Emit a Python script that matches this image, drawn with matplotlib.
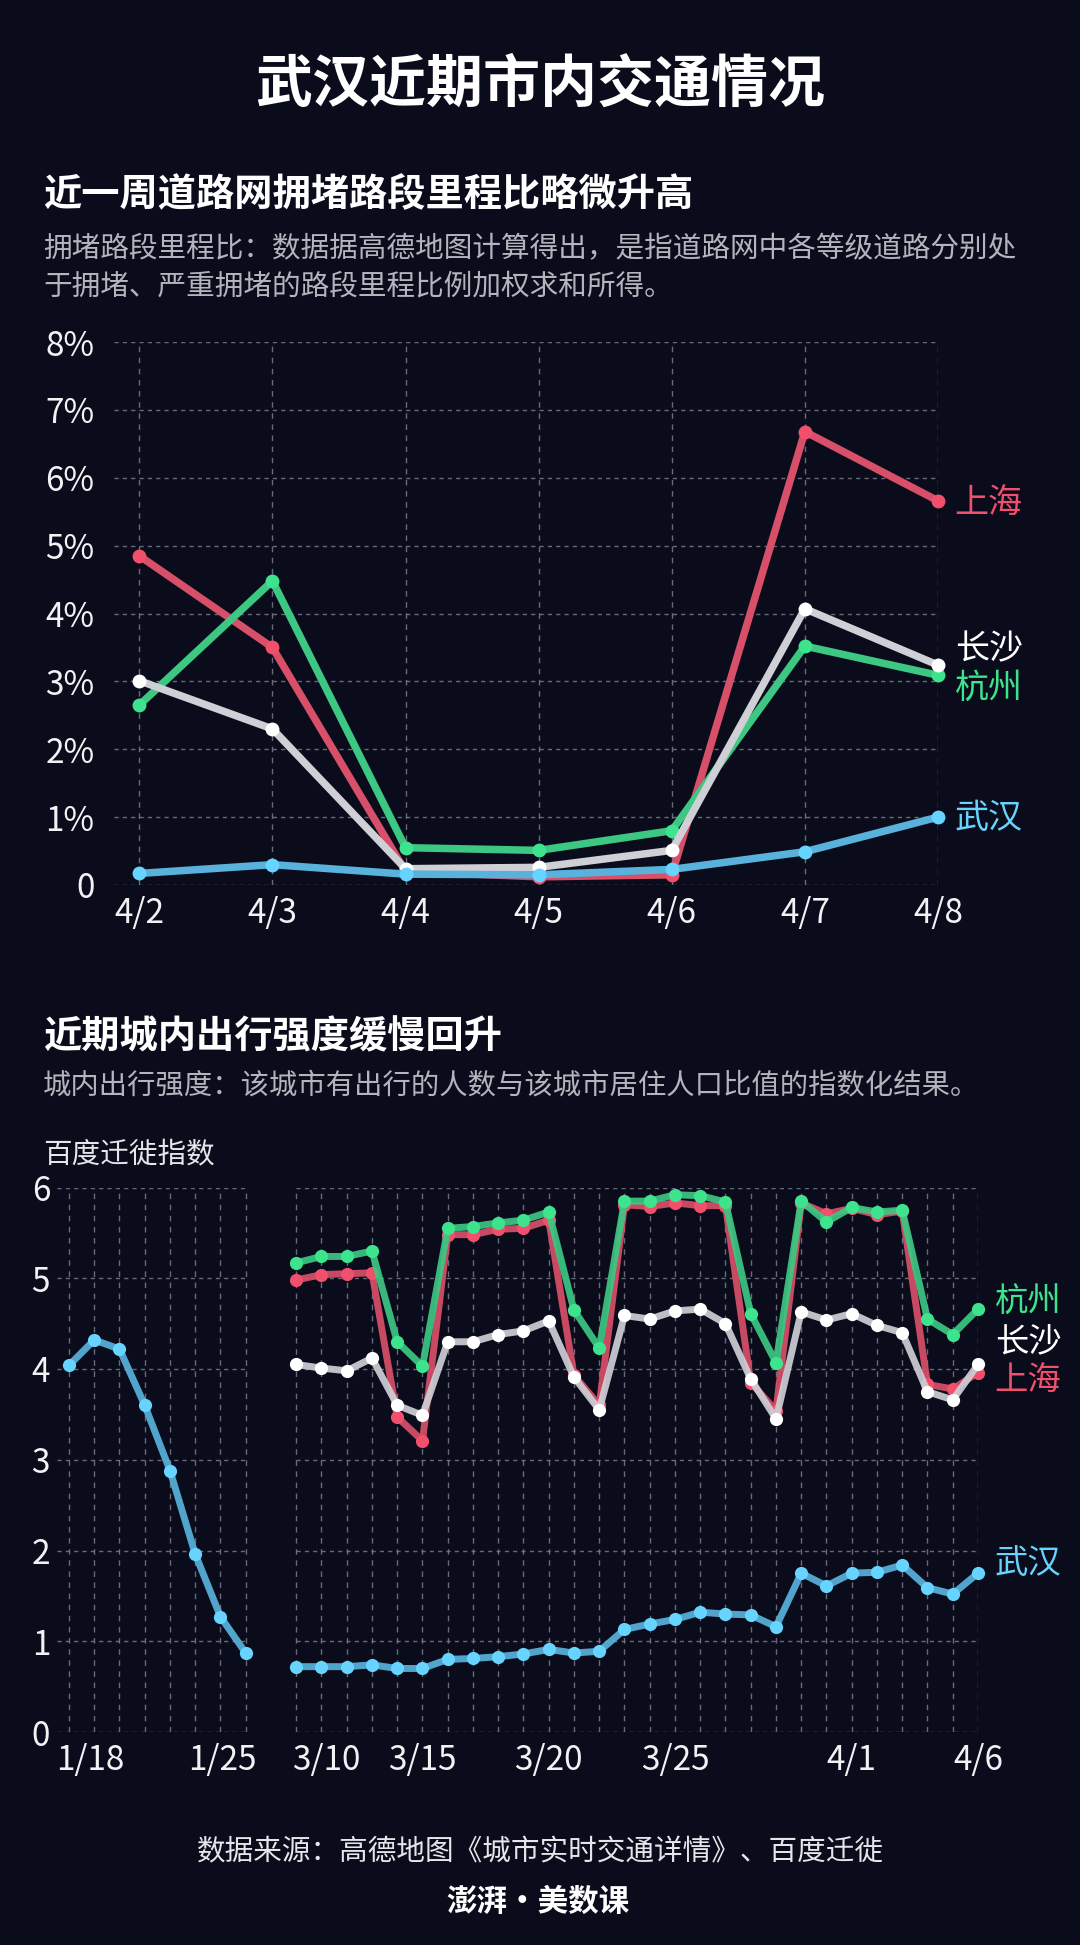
import matplotlib
matplotlib.use("Agg")
import matplotlib.pyplot as plt
import numpy as np

plt.rcParams['font.family'] = ['Noto Sans CJK SC', 'DejaVu Sans']

# ---------------- data ----------------
top_dates = ['4/2', '4/3', '4/4', '4/5', '4/6', '4/7', '4/8']
top_shanghai = [4.85, 3.50, 0.20, 0.12, 0.15, 6.68, 5.66]
top_hangzhou = [2.65, 4.48, 0.55, 0.51, 0.80, 3.52, 3.09]
top_changsha = [3.01, 2.30, 0.24, 0.26, 0.51, 4.07, 3.24]
top_wuhan = [0.17, 0.30, 0.16, 0.15, 0.23, 0.49, 1.00]
top_yticks = ['0', '1%', '2%', '3%', '4%', '5%', '6%', '7%', '8%']

jan_dates = ['1/18', '1/19', '1/20', '1/21', '1/22', '1/23', '1/24', '1/25']
mar_dates = ['3/10', '3/11', '3/12', '3/13', '3/14', '3/15', '3/16', '3/17', '3/18',
             '3/19', '3/20', '3/21', '3/22', '3/23', '3/24', '3/25', '3/26', '3/27',
             '3/28', '3/29', '3/30', '3/31', '4/1', '4/2', '4/3', '4/4', '4/5', '4/6']
wuhan_jan = [4.04, 4.32, 4.22, 3.60, 2.88, 1.96, 1.27, 0.87]
wuhan_mar = [0.72, 0.72, 0.72, 0.74, 0.70, 0.70, 0.80, 0.81, 0.83, 0.86, 0.91, 0.87,
             0.89, 1.13, 1.19, 1.24, 1.32, 1.30, 1.29, 1.16, 1.75, 1.61, 1.75, 1.76,
             1.84, 1.59, 1.52, 1.75]
hangzhou_mar = [5.17, 5.24, 5.24, 5.30, 4.30, 4.03, 5.55, 5.57, 5.61, 5.64, 5.73, 4.65,
                4.23, 5.85, 5.85, 5.92, 5.91, 5.84, 4.61, 4.07, 5.85, 5.62, 5.78, 5.73,
                5.75, 4.55, 4.38, 4.66]
shanghai_mar = [4.98, 5.04, 5.05, 5.06, 3.47, 3.21, 5.48, 5.48, 5.54, 5.55, 5.64, 3.93,
                3.60, 5.81, 5.79, 5.83, 5.80, 5.80, 3.85, 3.54, 5.83, 5.71, 5.77, 5.70,
                5.74, 3.83, 3.78, 3.96]
changsha_mar = [4.05, 4.01, 3.98, 4.12, 3.60, 3.49, 4.30, 4.30, 4.38, 4.42, 4.53, 3.91,
                3.55, 4.59, 4.55, 4.64, 4.66, 4.50, 3.89, 3.45, 4.63, 4.54, 4.61, 4.48,
                4.40, 3.75, 3.66, 4.05]
bottom_tick_labels = ['1/18', '1/25', '3/10', '3/15', '3/20', '3/25', '4/1', '4/6']

# ---------------- style ----------------
BG = '#0a0c1c'
C_SH_LINE, C_SH_MK = '#d84f69', '#f0506c'
C_HZ_LINE, C_HZ_MK = '#3cc883', '#3ee38e'
C_CS_LINE, C_CS_MK = '#cfcfd6', '#ffffff'
C_WH_LINE, C_WH_MK = '#58b2dc', '#66d4ff'
GRID = '#80828f'
TXT = '#ffffff'
GRAY = '#b3b5bd'
LIGHT = 'light'

W, H = 1080, 1945
fig = plt.figure(figsize=(W / 100, H / 100), dpi=100, facecolor=BG)


def fx(px):
    return px / W


def fy(py):
    return 1 - py / H


# ---------------- headings ----------------
fig.text(0.5, fy(85), '武汉近期市内交通情况', ha='center', va='center',
         fontsize=41, fontweight='bold', color=TXT)
fig.text(fx(43), fy(195), '近一周道路网拥堵路段里程比略微升高', ha='left', va='center',
         fontsize=27.5, fontweight='bold', color=TXT)
fig.text(fx(43), fy(249), '拥堵路段里程比：数据据高德地图计算得出，是指道路网中各等级道路分别处',
         ha='left', va='center', fontsize=20.6, color=GRAY, fontweight=LIGHT)
fig.text(fx(43), fy(286), '于拥堵、严重拥堵的路段里程比例加权求和所得。',
         ha='left', va='center', fontsize=20.6, color=GRAY, fontweight=LIGHT)

fig.text(fx(43), fy(1037), '近期城内出行强度缓慢回升', ha='left', va='center',
         fontsize=27.5, fontweight='bold', color=TXT)
fig.text(fx(43), fy(1085), '城内出行强度：该城市有出行的人数与该城市居住人口比值的指数化结果。',
         ha='left', va='center', fontsize=20.4, color=GRAY, fontweight=LIGHT)
fig.text(fx(43), fy(1155), '百度迁徙指数', ha='left', va='center',
         fontsize=20.6, color='#e6e6ea', fontweight=LIGHT)

fig.text(0.5, fy(1852), '数据来源：高德地图《城市实时交通详情》、百度迁徙', ha='center', va='center',
         fontsize=20.6, color='#e6e6ea', fontweight=LIGHT)
fig.text(0.498, fy(1902), '澎湃·美数课', ha='center', va='center',
         fontsize=22, fontweight='bold', color=TXT)

# ---------------- top chart ----------------
ax1 = fig.add_axes([fx(114), fy(885), fx(938 - 114), (885 - 342) / H])
ax1.set_facecolor(BG)
x_top = np.arange(len(top_dates))
ax1.set_xlim(-0.19, len(top_dates) - 1)
ax1.set_ylim(0, 8)

for y in range(0, 9):
    ax1.axhline(y, color=GRID, lw=1.0, ls=(0, (3, 3)), alpha=0.8, zorder=0)
for x in x_top:
    ax1.axvline(x, color=GRID, lw=1.0, ls=(0, (4, 4)), alpha=0.8, zorder=0)

series_top = [
    (top_shanghai, C_SH_LINE, C_SH_MK),
    (top_hangzhou, C_HZ_LINE, C_HZ_MK),
    (top_changsha, C_CS_LINE, C_CS_MK),
    (top_wuhan, C_WH_LINE, C_WH_MK),
]
for i, (vals, lc, mc) in enumerate(series_top):
    ax1.plot(x_top, vals, color=lc, lw=5.4, solid_joinstyle='round', zorder=2 + i,
             clip_on=False)
    ax1.plot(x_top, vals, ls='none', marker='o', ms=10, color=mc, mec='none',
             zorder=2 + i, clip_on=False)

ax1.set_xticks(x_top)
ax1.set_xticklabels(top_dates)
ax1.set_yticks(range(0, 9))
ax1.set_yticklabels(top_yticks)
ax1.tick_params(axis='both', length=0, labelsize=24, colors='#f2f2f4')
ax1.tick_params(axis='x', pad=8)
ax1.tick_params(axis='y', pad=14)
for lab in ax1.get_xticklabels() + ax1.get_yticklabels():
    lab.set_fontweight(LIGHT)
for s in ax1.spines.values():
    s.set_visible(False)

lab_kw = dict(fontsize=24.5, va='center', ha='left', clip_on=False, fontweight=LIGHT)
last = len(top_dates) - 1
ax1.annotate('上海', (last, top_shanghai[-1]), xytext=(12, -2), textcoords='offset points',
             color=C_SH_MK, **lab_kw)
ax1.annotate('长沙', (last, top_changsha[-1]), xytext=(12, 11), textcoords='offset points',
             color=TXT, **lab_kw)
ax1.annotate('杭州', (last, top_hangzhou[-1]), xytext=(12, -9), textcoords='offset points',
             color=C_HZ_MK, **lab_kw)
ax1.annotate('武汉', (last, top_wuhan[-1]), xytext=(12, -1), textcoords='offset points',
             color=C_WH_MK, **lab_kw)

# ---------------- bottom chart ----------------
n_jan = len(jan_dates)
gap = 1
x_jan = np.arange(n_jan)
x_mar = np.arange(len(mar_dates)) + n_jan + gap
x_end = x_mar[-1]

ax2 = fig.add_axes([fx(57), fy(1732), fx(978 - 57), (1732 - 1187.5) / H])
ax2.set_facecolor(BG)
ax2.set_xlim(-0.475, x_end)
ax2.set_ylim(0, 6)

for y in range(0, 7):
    ax2.hlines(y, -0.475, x_jan[-1], color=GRID, lw=1.0, linestyles=(0, (3, 3)),
               alpha=0.8, zorder=0)
    ax2.hlines(y, x_mar[0], x_end, color=GRID, lw=1.0, linestyles=(0, (3, 3)),
               alpha=0.8, zorder=0)
for x in list(x_jan) + list(x_mar):
    ax2.vlines(x, 0, 6, color=GRID, lw=1.0, linestyles=(0, (4, 4)), alpha=0.8, zorder=0)

series_bot = [
    (x_mar, shanghai_mar, C_SH_LINE, C_SH_MK),
    (x_mar, hangzhou_mar, C_HZ_LINE, C_HZ_MK),
    (x_mar, changsha_mar, C_CS_LINE, C_CS_MK),
    (x_jan, wuhan_jan, C_WH_LINE, C_WH_MK),
    (x_mar, wuhan_mar, C_WH_LINE, C_WH_MK),
]
for i, (xs, vals, lc, mc) in enumerate(series_bot):
    ax2.plot(xs, vals, color=lc, lw=5.0, solid_joinstyle='round', zorder=2 + i,
             clip_on=False, alpha=0.92)
    ax2.plot(xs, vals, ls='none', marker='o', ms=9.5, color=mc, mec='none',
             zorder=2 + i, clip_on=False)

all_dates = jan_dates + [''] * gap + mar_dates
tick_shift = {'1/18': 0.83, '1/25': -0.94, '3/10': 1.2}
tick_pos = [all_dates.index(d) + tick_shift.get(d, 0.0) for d in bottom_tick_labels]
ax2.set_xticks(tick_pos)
ax2.set_xticklabels(bottom_tick_labels)
ax2.set_yticks(range(0, 7))
ax2.tick_params(axis='both', length=0, labelsize=24, colors='#f2f2f4')
ax2.tick_params(axis='x', pad=8)
ax2.tick_params(axis='y', pad=5)
for lab in ax2.get_xticklabels() + ax2.get_yticklabels():
    lab.set_fontweight(LIGHT)
for s in ax2.spines.values():
    s.set_visible(False)

lab2 = dict(fontsize=24, va='center', ha='left', clip_on=False, fontweight=LIGHT)
ax2.annotate('杭州', (x_end, hangzhou_mar[-1]), xytext=(12, 5), textcoords='offset points',
             color=C_HZ_MK, **lab2)
ax2.annotate('长沙', (x_end, changsha_mar[-1]), xytext=(12, 16), textcoords='offset points',
             color=TXT, **lab2)
ax2.annotate('上海', (x_end, shanghai_mar[-1]), xytext=(12, -6), textcoords='offset points',
             color=C_SH_MK, **lab2)
ax2.annotate('武汉', (x_end, wuhan_mar[-1]), xytext=(12, 7), textcoords='offset points',
             color=C_WH_MK, **lab2)

fig.savefig('out.png', dpi=100, facecolor=BG)
